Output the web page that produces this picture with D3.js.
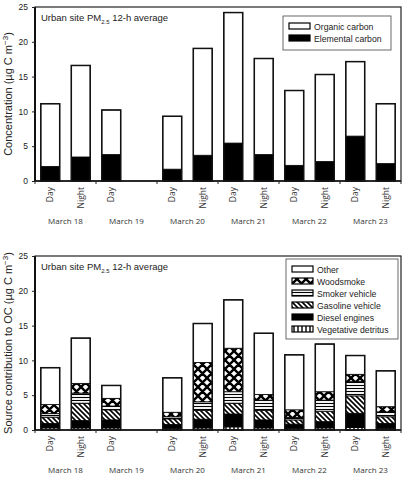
<!DOCTYPE html>
<meta charset="utf-8">
<head>
<style>
  body { margin: 0; background: #fff; }
  text { font-family: "Liberation Sans", Arial, sans-serif; fill: #222; }
  .cat text { font-family: "Open Sans", sans-serif; fill: #333; }
</style>
</head>
<div id="chart"></div>
<script src="https://d3js.org/d3.v7.min.js"></script>
<script>
// samples: 12-h periods, March 19 night missing
var periods = ["18D","18N","19D","19N","20D","20N","21D","21N","22D","22N","23D","23N"];
var periodLabels = ["Day","Night","Day","","Day","Night","Day","Night","Day","Night","Day","Night"];
var dates = ["March 18","March 19","March 20","March 21","March 22","March 23"];

// top panel (µg C m-3)
var elemental = [2.1, 3.45, 3.8, null, 1.7, 3.7, 5.45, 3.8, 2.25, 2.8, 6.45, 2.5];
var totalOC   = [11.1, 16.6, 10.2, null, 9.3, 19.05, 24.2, 17.6, 13.0, 15.3, 17.15, 11.1];

// bottom panel, source contributions to OC
var vegetative = [0.3, 0.3, 0.3, null, 0.25, 0.3, 0.45, 0.3, 0.25, 0.3, 0.35, 0.25];
var diesel     = [0.65, 1.05, 1.15, null, 0.55, 1.25, 1.85, 1.15, 0.6, 0.9, 2.05, 0.7];
var gasoline   = [0.9, 2.5, 1.45, null, 0.8, 1.25, 1.55, 1.35, 0.6, 1.5, 2.5, 0.95];
var smoker     = [0.5, 1.45, 0.55, null, 0.3, 1.25, 1.65, 1.5, 0.35, 1.6, 2.05, 0.7];
var woodsmoke  = [1.3, 1.4, 1.1, null, 0.65, 5.65, 6.25, 0.8, 1.1, 1.2, 1.05, 0.75];
var other      = [5.3, 6.5, 1.85, null, 4.95, 5.6, 6.95, 8.8, 7.9, 6.85, 2.7, 5.15];

var yTicks = [0, 5, 10, 15, 20, 25];

var W = 405, H = 481;
var svg = d3.select("#chart").append("svg").attr("width", W).attr("height", H);

// fill patterns
var defs = svg.append("defs");
function pat(id, w, h, draw) {
  var p = defs.append("pattern").attr("id", id).attr("patternUnits", "userSpaceOnUse")
    .attr("width", w).attr("height", h);
  p.append("rect").attr("width", w).attr("height", h).attr("fill", "#fff");
  draw(p);
}
pat("vert", 4, 4, function(p) {
  p.append("line").attr("x1", 2).attr("x2", 2).attr("y1", 0).attr("y2", 4).attr("stroke", "#000").attr("stroke-width", 1.4);
});
pat("horiz", 4, 3, function(p) {
  p.append("line").attr("x1", 0).attr("x2", 4).attr("y1", 1.5).attr("y2", 1.5).attr("stroke", "#000").attr("stroke-width", 1.1);
});
pat("diag", 5, 5, function(p) {
  p.append("path").attr("d", "M-1,-1L6,6M-1,4L1,6M4,-1L6,1").attr("stroke", "#000").attr("stroke-width", 1.6);
});
pat("cross", 9, 9, function(p) {
  p.append("path").attr("d", "M0,0L9,9M9,0L0,9M-1,8L1,10M8,-1L10,1").attr("stroke", "#000").attr("stroke-width", 2.4);
});

function panel(top, yTitle, layers, legend, legendBox) {
  var left = 35, right = 401, bottom = top + 174;

  var x = d3.scaleBand().domain(periods).range([left, right]).paddingInner(0.38).paddingOuter(0.19);
  var y = d3.scaleLinear().domain([0, 25]).range([bottom, top]);

  var g = svg.append("g");

  // stacked bars
  var rows = periods.map(function(p, i) {
    var r = {period: p};
    layers.forEach(function(l) { r[l.key] = l.values[i] || 0; });
    return r;
  }).filter(function(r, i) { return layers[0].values[i] != null; });
  var series = d3.stack().keys(layers.map(function(l) { return l.key; }))(rows);

  series.forEach(function(s, k) {
    g.selectAll(null).data(s).enter().append("rect")
      .attr("x", function(d) { return x(d.data.period); })
      .attr("width", x.bandwidth())
      .attr("y", function(d) { return y(d[1]); })
      .attr("height", function(d) { return y(d[0]) - y(d[1]); })
      .attr("fill", layers[k].fill)
      .attr("stroke", "#000").attr("stroke-width", 0.8);
  });
  // bar outlines
  g.selectAll(null).data(series[series.length - 1]).enter().append("rect")
    .attr("x", function(d) { return x(d.data.period); })
    .attr("width", x.bandwidth())
    .attr("y", function(d) { return y(d[1]); })
    .attr("height", function(d) { return y(0) - y(d[1]); })
    .attr("fill", "none").attr("stroke", "#111").attr("stroke-width", 1.5);

  // frame
  g.append("rect").attr("x", left).attr("y", top).attr("width", right - left).attr("height", bottom - top)
    .attr("fill", "none").attr("stroke", "#222").attr("stroke-width", 1.2);
  g.append("line").attr("x1", left).attr("x2", left).attr("y1", top).attr("y2", bottom)
    .attr("stroke", "#111").attr("stroke-width", 2);

  // y axis
  var ya = g.append("g").attr("transform", "translate(" + left + ",0)")
    .call(d3.axisLeft(y).tickValues(yTicks).tickSize(3).tickPadding(4));
  ya.select(".domain").remove();
  ya.selectAll("text").style("font-size", "8.5px").attr("fill", "#222");
  ya.selectAll("line").attr("stroke", "#222");

  // x axis: ticks at date boundaries
  var dateScale = d3.scaleBand().domain(dates).range([left, right]);
  var xa = g.append("g").attr("transform", "translate(0," + bottom + ")");
  xa.append("line").attr("x1", left).attr("x2", right).attr("stroke", "#111").attr("stroke-width", 1.5);
  xa.selectAll(null).data(dates.concat([""])).enter().append("line")
    .attr("x1", function(d, i) { return left + i * dateScale.step(); })
    .attr("x2", function(d, i) { return left + i * dateScale.step(); })
    .attr("y1", 0).attr("y2", 3).attr("stroke", "#222");

  var cat = g.append("g").attr("class", "cat");
  cat.selectAll(null).data(periods).enter().append("text")
    .attr("transform", function(d) {
      return "translate(" + (x(d) + x.bandwidth() / 2 + 3) + "," + (bottom + 6) + ") rotate(-90)";
    })
    .attr("text-anchor", "end")
    .style("font-size", "8.5px")
    .text(function(d, i) { return periodLabels[i]; });
  cat.selectAll(null).data(dates).enter().append("text")
    .attr("x", function(d) { return dateScale(d) + dateScale.bandwidth() / 2; })
    .attr("y", bottom + 43)
    .attr("text-anchor", "middle")
    .style("font-size", "8px")
    .text(function(d) { return d; });

  // y title
  var yt = g.append("text")
    .attr("transform", "translate(12," + (top + 87) + ") rotate(-90)")
    .attr("text-anchor", "middle").style("font-size", "11px");
  yt.append("tspan").text(yTitle + " (µg C m");
  yt.append("tspan").attr("dy", -4).style("font-size", "8px").text("−3");
  yt.append("tspan").attr("dy", 4).text(")");

  // panel title
  var t = g.append("text").attr("x", 41).attr("y", top + 14).style("font-size", "9.5px");
  t.append("tspan").text("Urban site PM");
  t.append("tspan").attr("dy", 3).style("font-size", "6px").text("2.5");
  t.append("tspan").attr("dy", -3).text(" 12-h average");

  // legend
  var lg = g.append("g");
  lg.append("rect").attr("x", legendBox[0]).attr("y", legendBox[1])
    .attr("width", legendBox[2]).attr("height", legendBox[3])
    .attr("fill", "#fff").attr("stroke", "#444").attr("stroke-width", 0.8);
  legend.forEach(function(l, i) {
    var yy = legendBox[1] + 7 + i * 12;
    lg.append("rect").attr("x", legendBox[0] + 6).attr("y", yy).attr("width", 21).attr("height", 6)
      .attr("fill", l.fill).attr("stroke", "#000").attr("stroke-width", 1.2);
    lg.append("text").attr("x", legendBox[0] + 31).attr("y", yy + 6.5)
      .style("font-size", "8.7px").attr("fill", "#333").text(l.name);
  });
}

panel(7, "Concentration",
  [{key: "ec", values: elemental, fill: "#000"},
   {key: "oc", values: totalOC.map(function(v, i) { return v == null ? null : v - elemental[i]; }), fill: "#fff"}],
  [{name: "Organic carbon", fill: "#fff"}, {name: "Elemental carbon", fill: "#000"}],
  [283, 16, 108, 34]);

panel(256, "Source contribution to OC",
  [{key: "veg", values: vegetative, fill: "url(#vert)"},
   {key: "dsl", values: diesel, fill: "#000"},
   {key: "gas", values: gasoline, fill: "url(#diag)"},
   {key: "smk", values: smoker, fill: "url(#horiz)"},
   {key: "wood", values: woodsmoke, fill: "url(#cross)"},
   {key: "oth", values: other, fill: "#fff"}],
  [{name: "Other", fill: "#fff"}, {name: "Woodsmoke", fill: "url(#cross)"},
   {name: "Smoker vehicle", fill: "url(#horiz)"}, {name: "Gasoline vehicle", fill: "url(#diag)"},
   {name: "Diesel engines", fill: "#000"}, {name: "Vegetative detritus", fill: "url(#vert)"}],
  [286, 259, 112, 80]);
</script>
